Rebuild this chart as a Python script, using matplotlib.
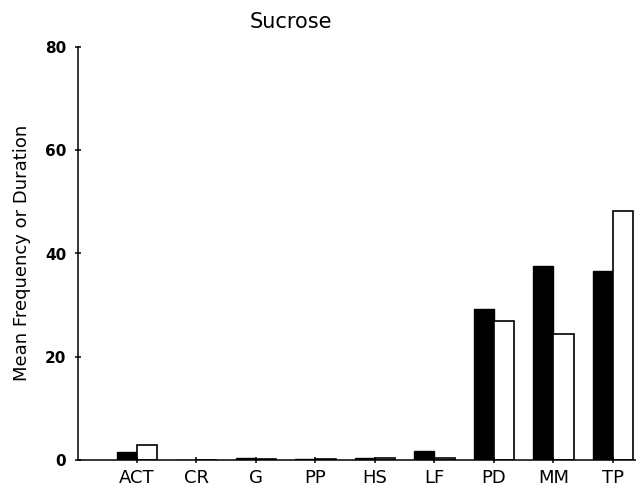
import matplotlib
matplotlib.use("Agg")
import matplotlib.pyplot as plt
import numpy as np

# conductas registradas
categorias = ["ACT", "CR", "G", "PP", "HS", "LF", "PD", "MM", "TP"]
# barras negras y blancas
valores_negro = [1.5, 0.0, 0.3, 0.1, 0.3, 1.8, 29.3, 37.5, 36.6]
valores_blanco = [3.0, 0.0, 0.1, 0.1, 0.3, 0.3, 27.0, 24.4, 48.3]
marcas_y = [0, 20, 40, 60, 80]

fig = plt.figure(figsize=(6.36, 4.91), dpi=100)
ax = fig.add_axes([78 / 636, 31 / 491, 558 / 636, 413 / 491])

x = np.arange(len(categorias))
ancho = 0.34

ax.bar(x, valores_negro, width=-ancho, align="edge",
       color="black", edgecolor="black", linewidth=1.0)
ax.bar(x, valores_blanco, width=ancho, align="edge",
       color="white", edgecolor="black", linewidth=1.2)

ax.set_xlim(-0.99, 8.39)
ax.set_ylim(0, 80)
ax.set_xticks(x)
ax.set_xticklabels(categorias, fontsize=13)
ax.set_yticks(marcas_y)
ax.set_yticklabels([str(v) for v in marcas_y], fontsize=11, fontweight="bold")

for lado in ["top", "right"]:
    ax.spines[lado].set_visible(False)
ax.spines["left"].set_linewidth(1.1)
ax.spines["bottom"].set_linewidth(1.1)
ax.tick_params(axis="both", direction="inout", length=5, width=1.1)
ax.tick_params(axis="x", pad=4)
ax.tick_params(axis="y", pad=6)

fig.text(22 / 636, 1 - 253 / 491, "Mean Frequency or Duration",
         fontsize=13, rotation=90, ha="center", va="center")
fig.text(291 / 636, 1 - 22 / 491, "Sucrose", fontsize=15, ha="center", va="center")

fig.savefig("out.png", dpi=100)
